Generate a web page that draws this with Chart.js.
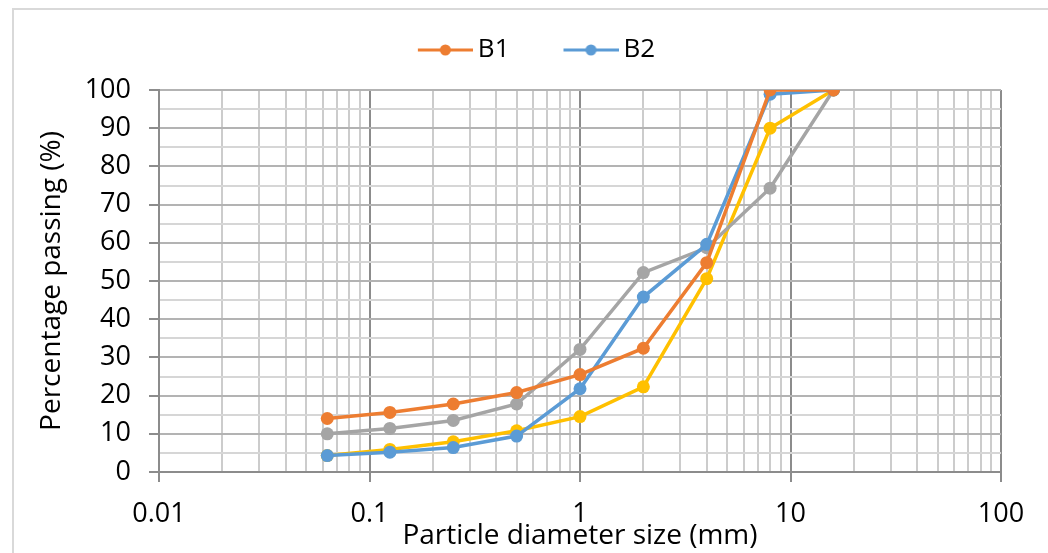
<!DOCTYPE html>
<html>
<head>
<meta charset="utf-8">
<script src="https://cdn.jsdelivr.net/npm/chart.js@4.4.0/dist/chart.umd.min.js"></script>
<style>
  html, body { margin: 0; padding: 0; background: #fff; }
  #wrap { position: absolute; left: 0; top: 0; width: 1048px; height: 553px; overflow: hidden; }
  #frame { position: absolute; left: 12px; top: 8px; width: 1040px; height: 560px; border-top: 2px solid #d9d9d9; border-left: 2px solid #d9d9d9; }
  canvas { position: absolute; left: 0; top: 0; }
</style>
</head>
<body>
<div id="wrap">
  <div id="frame"></div>
  <canvas id="chart" width="1048" height="553"></canvas>
</div>
<script>
// sieve sizes (mm)
const sizes = [0.063, 0.125, 0.25, 0.5, 1, 2, 4, 8, 16];
// percentage passing
const b1 = [14.0, 15.6, 17.8, 20.8, 25.5, 32.4, 54.8, 100, 100];
const b2 = [4.3, 5.2, 6.4, 9.4, 21.8, 45.8, 59.6, 98.9, 100];
const b3 = [10.0, 11.4, 13.5, 17.8, 32.1, 52.2, 58.7, 74.3, 100];
const b4 = [4.3, 5.9, 7.9, 10.8, 14.5, 22.3, 50.6, 90.0, 100];
const xTickLabels = [0.01, 0.1, 1, 10, 100];
const yTickLabels = [0, 10, 20, 30, 40, 50, 60, 70, 80, 90, 100];

const FONT = "'Open Sans', sans-serif";

function toPoints(arr) {
  return sizes.map((s, i) => ({ x: s, y: arr[i] }));
}

// line + dot marker, drawn at the right end of a wider transparent canvas
function legendIcon(color) {
  const c = document.createElement("canvas");
  c.width = 91;
  c.height = 14;
  const g = c.getContext("2d");
  g.strokeStyle = color;
  g.lineWidth = 3;
  g.beginPath();
  g.moveTo(36, 7);
  g.lineTo(91, 7);
  g.stroke();
  g.fillStyle = color;
  g.beginPath();
  g.arc(63.5, 7, 5.5, 0, Math.PI * 2);
  g.fill();
  return c;
}

function series(label, data, color) {
  return {
    label: label,
    data: toPoints(data),
    borderColor: color,
    backgroundColor: color,
    borderWidth: 3.5,
    pointRadius: 6.5,
    pointHoverRadius: 6.5,
    pointBorderWidth: 0,
    tension: 0,
  };
}

function isMajorX(v) {
  const l = Math.log10(v);
  return Math.abs(l - Math.round(l)) < 1e-6;
}

// extra room under the legend and a small nudge to the right
const legendGap = {
  id: "legendGap",
  beforeInit(chart) {
    const lg = chart.legend;
    const fit = lg.fit;
    lg.fit = function () {
      fit.bind(lg)();
      this.height += 17;
    };
    const draw = lg.draw;
    lg.draw = function () {
      const ctx = chart.ctx;
      ctx.save();
      ctx.translate(7, 0);
      draw.bind(lg)();
      ctx.restore();
    };
  },
};

new Chart(document.getElementById("chart"), {
  type: "line",
  data: {
    datasets: [
      series("B1", b1, "#ED7D31"),
      series("B2", b2, "#5B9BD5"),
      series("B3", b3, "#A5A5A5"),
      series("B4", b4, "#FFC000"),
    ],
  },
  plugins: [legendGap],
  options: {
    responsive: false,
    animation: false,
    layout: { padding: { left: 30, right: 47, top: 11, bottom: 0 } },
    plugins: {
      tooltip: { enabled: false },
      legend: {
        position: "top",
        labels: {
          color: "#000",
          font: { family: FONT, size: 26 },
          padding: 26,
          boxHeight: 14,
          usePointStyle: true,
          pointStyleWidth: 75,
          generateLabels: function (chart) {
            return chart.data.datasets
              .map((ds, i) => ({
                text: ds.label,
                pointStyle: legendIcon(ds.borderColor),
                fillStyle: ds.borderColor,
                strokeStyle: ds.borderColor,
                lineWidth: 0,
                fontColor: "#000",
                datasetIndex: i,
              }))
              .filter((item) => item.text == "B1" || item.text == "B2");
          },
        },
      },
    },
    scales: {
      x: {
        type: "logarithmic",
        min: 0.01,
        max: 100,
        afterBuildTicks: function (axis) {
          const t = [];
          for (let e = -2; e <= 1; e++) {
            for (let m = 1; m <= 9; m++) t.push({ value: m * Math.pow(10, e) });
          }
          t.push({ value: 100 });
          axis.ticks = t;
        },
        afterFit: function (axis) {
          axis.height = 81;
        },
        ticks: {
          autoSkip: false,
          maxRotation: 0,
          color: "#000",
          font: { family: FONT, size: 27 },
          padding: 16,
          callback: function (value) {
            return xTickLabels.find((v) => Math.abs(v - value) / v < 1e-6) !== undefined ? String(value) : "";
          },
        },
        grid: {
          color: (ctx) => (ctx.tick && isMajorX(ctx.tick.value) ? "#8c8c8c" : "#cccccc"),
          lineWidth: 2,
          tickLength: 10,
          tickColor: (ctx) => (ctx.tick && isMajorX(ctx.tick.value) ? "#8c8c8c" : "rgba(0,0,0,0)"),
        },
        border: { color: "#8c8c8c", width: 2 },
        title: {
          display: true,
          text: "Particle diameter size (mm)",
          color: "#000",
          font: { family: FONT, size: 28 },
          padding: { top: -5, bottom: 0 },
        },
      },
      y: {
        min: 0,
        max: 100,
        afterFit: function (axis) {
          axis.width = 129;
        },
        ticks: {
          stepSize: 5,
          autoSkip: false,
          color: "#000",
          font: { family: FONT, size: 27 },
          padding: 18,
          callback: function (value) {
            return yTickLabels.includes(value) ? String(value) : "";
          },
        },
        grid: {
          color: (ctx) => (ctx.tick && ctx.tick.value % 10 == 0 ? "#b3b3b3" : "#d6d6d6"),
          lineWidth: 2,
          tickLength: 10,
          tickColor: (ctx) => (ctx.tick && ctx.tick.value % 10 == 0 ? "#8c8c8c" : "rgba(0,0,0,0)"),
        },
        border: { color: "#8c8c8c", width: 2 },
        title: {
          display: true,
          text: "Percentage passing (%)",
          color: "#000",
          font: { family: FONT, size: 28 },
          padding: { top: 5, bottom: 0 },
        },
      },
    },
  },
});
</script>
</body>
</html>
